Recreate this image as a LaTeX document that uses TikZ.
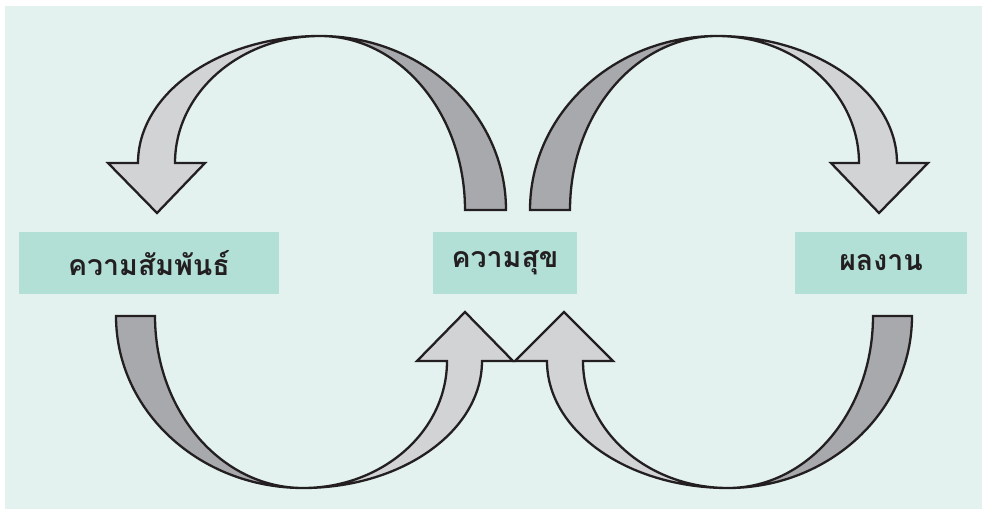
\documentclass[tikz,border=0pt]{standalone}
\usepackage{fontspec}
\newfontfamily\thaifont[Script=Thai]{Loma}
\definecolor{mint}{HTML}{E3F2EF}
\definecolor{boxteal}{HTML}{B2DFD6}
\definecolor{backgrey}{HTML}{A7A9AC}
\definecolor{frontgrey}{HTML}{D1D3D4}
\definecolor{ink}{HTML}{231F20}

\begin{document}
\begin{tikzpicture}[x=1pt, y=1pt, line width=2.3pt, line join=miter,
    stage/.style={fill=boxteal, minimum width=#1, minimum height=62pt,
      inner sep=0pt, text=ink, font=\thaifont\bfseries\fontsize{28.5}{32}\selectfont},
    backband/.style={draw=ink, fill=backgrey},
    frontband/.style={draw=ink, fill=frontgrey}]
  \useasboundingbox (0,0) rectangle (985,-514);
  \fill[white] (0,0) rectangle (985,-514);
  \fill[mint] (5,-6) rectangle (982,-509);

  % top left: happiness -> relationship
  \draw[backband] (465,-210)
    arc[start angle=0, end angle=90, x radius=145, y radius=174]
    arc[start angle=90, end angle=0, x radius=186, y radius=174] -- cycle;
  \draw[frontband] (175,-163)
    arc[start angle=180, end angle=90, x radius=145, y radius=127]
    arc[start angle=90, end angle=180, x radius=182, y radius=127]
    -- (108,-163) -- (157,-213) -- (205,-163) -- cycle;

  % top right: happiness -> work
  \draw[backband] (570,-210)
    arc[start angle=180, end angle=90, x radius=147, y radius=174]
    arc[start angle=90, end angle=180, x radius=187, y radius=174] -- cycle;
  \draw[frontband] (859,-163)
    arc[start angle=0, end angle=90, x radius=142, y radius=127]
    arc[start angle=90, end angle=0, x radius=180, y radius=127]
    -- (928,-163) -- (879,-213) -- (831,-163) -- cycle;

  % bottom left: relationship -> happiness
  \draw[backband] (155,-316)
    arc[start angle=180, end angle=270, x radius=148, y radius=172]
    arc[start angle=270, end angle=180, x radius=187, y radius=172] -- cycle;
  \draw[frontband] (447,-361)
    arc[start angle=0, end angle=-90, x radius=144, y radius=127]
    arc[start angle=-90, end angle=0, x radius=179, y radius=127]
    -- (513,-361) -- (465,-312) -- (417,-361) -- cycle;

  % bottom right: work -> happiness
  \draw[backband] (873,-316)
    arc[start angle=0, end angle=-90, x radius=145, y radius=172]
    arc[start angle=-90, end angle=0, x radius=184, y radius=172] -- cycle;
  \draw[frontband] (583,-361)
    arc[start angle=180, end angle=270, x radius=145, y radius=127]
    arc[start angle=270, end angle=180, x radius=181, y radius=127]
    -- (515,-361) -- (564,-312) -- (613,-361) -- cycle;

  \node[stage=260pt] (bond) at (149,-263) {ความสัมพันธ์};
  \node[stage=144pt] (joy) at (505,-263) {ความสุข};
  \node[stage=172pt] (work) at (881,-263) {ผลงาน};
\end{tikzpicture}
\end{document}
